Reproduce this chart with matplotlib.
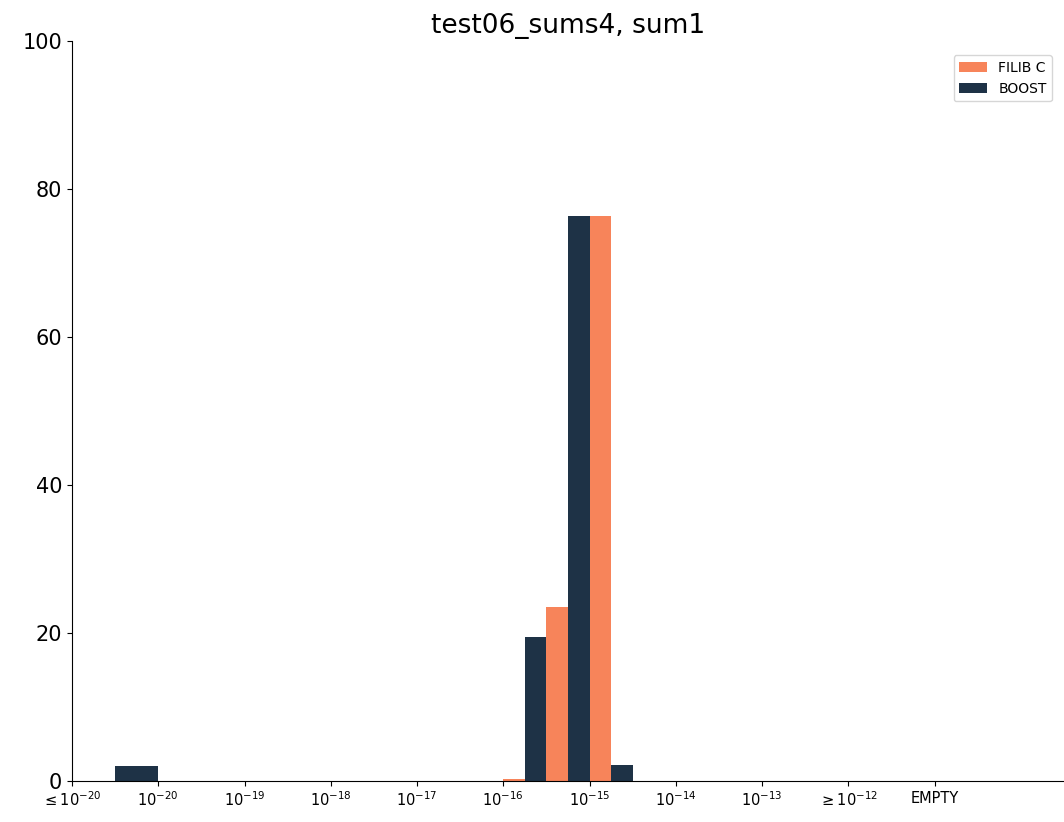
import matplotlib.pyplot as plt

tick_labels = [r"$\leq 10^{-20}$", r"$10^{-20}$", r"$10^{-19}$", r"$10^{-18}$", r"$10^{-17}$",
               r"$10^{-16}$", r"$10^{-15}$", r"$10^{-14}$", r"$10^{-13}$", r"$\geq 10^{-12}$", "EMPTY"]

# bar left edges (in tick units) and heights
filib_x = [5.0, 5.5, 6.0]
filib_y = [0.3, 23.5, 76.4]
boost_x = [0.5, 0.75, 5.25, 5.75, 6.25]
boost_y = [2.0, 2.0, 19.4, 76.4, 2.1]

fig = plt.figure(figsize=(10.64, 8.22), dpi=100)
ax = fig.add_axes([72/1064, 41/822, 1 - 72/1064, (781-41)/822])
ax.bar(filib_x, filib_y, width=0.25, align="edge", color="#f7845a", label="FILIB C")
ax.bar(boost_x, boost_y, width=0.25, align="edge", color="#1e3246", label="BOOST")
ax.set_xticks(range(len(tick_labels)))
ax.set_xticklabels(tick_labels, fontsize=10.5)
ax.set_xlim(0, 11.5)
ax.set_ylim(0, 100)
ax.tick_params(axis="y", labelsize=15)
ax.spines["top"].set_visible(False)
ax.spines["right"].set_visible(False)
ax.set_title("test06_sums4, sum1", fontsize=19)
ax.legend(loc="upper right", fontsize=10, bbox_to_anchor=(0.995, 0.99))
fig.savefig("out.png")
